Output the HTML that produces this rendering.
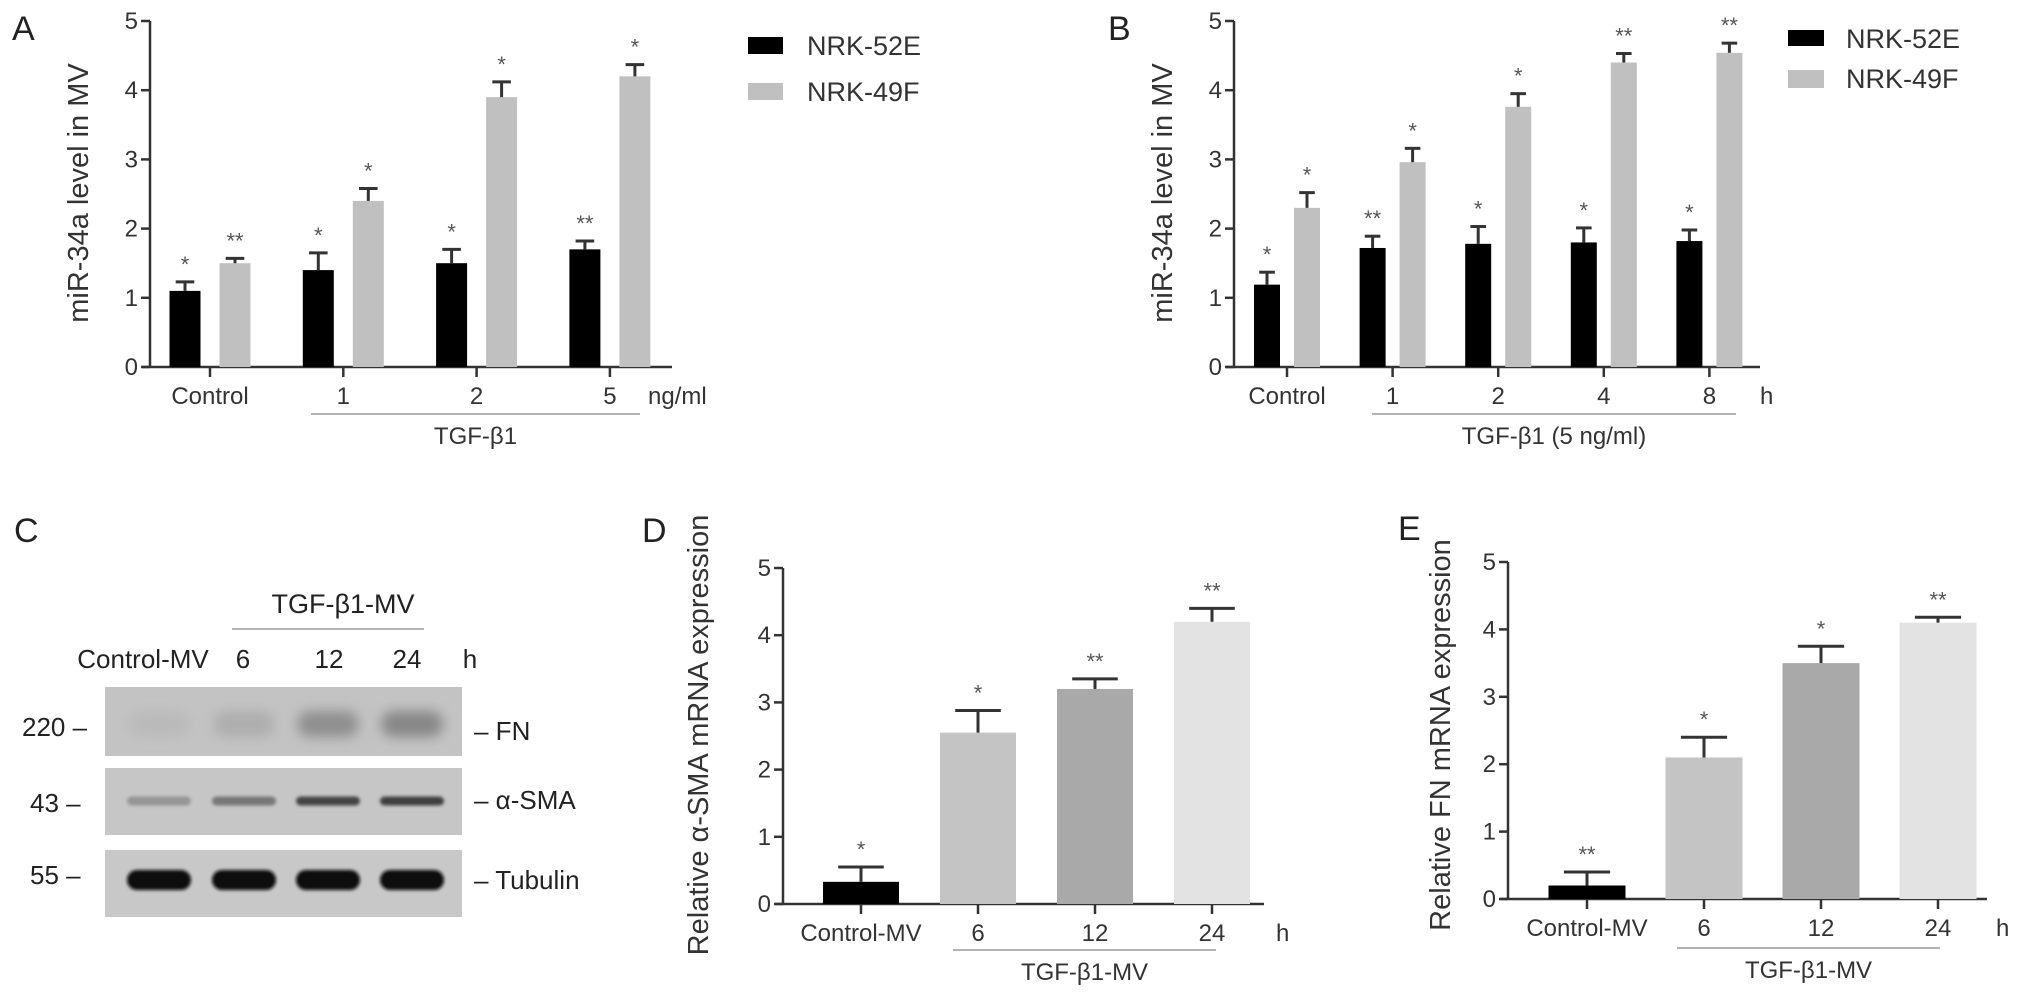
<!DOCTYPE html>
<html><head><meta charset="utf-8">
<style>
html,body{margin:0;padding:0;background:#fff;}
svg{display:block;font-family:"Liberation Sans",Arial,sans-serif;}
</style></head>
<body>
<svg id="fig" width="2031" height="1006" viewBox="0 0 2031 1006" xmlns="http://www.w3.org/2000/svg">
<defs>
<filter id="blur3" x="-50%" y="-100%" width="200%" height="300%"><feGaussianBlur stdDeviation="6"/></filter>
<filter id="blur2" x="-50%" y="-100%" width="200%" height="300%"><feGaussianBlur stdDeviation="1.6"/></filter>
</defs>
<text x="12" y="40" font-size="34" fill="#222">A</text>
<text x="1108" y="40" font-size="34" fill="#222">B</text>
<text x="14" y="542" font-size="34" fill="#222">C</text>
<text x="642" y="542" font-size="34" fill="#222">D</text>
<text x="1398" y="540" font-size="34" fill="#222">E</text>

<rect x="748" y="37" width="35" height="17" fill="#000"/>
<text x="807" y="55" font-size="27" fill="#333">NRK-52E</text>
<rect x="748" y="83" width="35" height="17" fill="#c0c0c0"/>
<text x="807" y="101" font-size="27" fill="#333">NRK-49F</text>
<rect x="1788" y="30" width="36" height="16" fill="#000"/>
<text x="1846" y="48" font-size="27" fill="#333">NRK-52E</text>
<rect x="1788" y="70" width="36" height="18" fill="#c0c0c0"/>
<text x="1846" y="88" font-size="27" fill="#333">NRK-49F</text>

<text x="343" y="613" font-size="27" text-anchor="middle" fill="#222">TGF-β1-MV</text>
<line x1="232" y1="629" x2="424" y2="629" stroke="#999" stroke-width="1.5"/>
<text x="143" y="668" font-size="26" text-anchor="middle" fill="#222">Control-MV</text>
<text x="243" y="668" font-size="26" text-anchor="middle" fill="#222">6</text>
<text x="329" y="668" font-size="26" text-anchor="middle" fill="#222">12</text>
<text x="407" y="668" font-size="26" text-anchor="middle" fill="#222">24</text>
<text x="470" y="668" font-size="26" text-anchor="middle" fill="#222">h</text>
<text x="22" y="736" font-size="26" fill="#222">220 –</text>
<text x="30" y="812" font-size="26" fill="#222">43 –</text>
<text x="30" y="884" font-size="26" fill="#222">55 –</text>
<text x="474" y="740" font-size="26" fill="#222">– FN</text>
<text x="474" y="809" font-size="26" fill="#222">– α-SMA</text>
<text x="474" y="889" font-size="26" fill="#222">– Tubulin</text>
<g id="blots"></g>
<g id="charts"></g>
</svg>
<script>
const aCats = ["Control","1","2","5"];
const aBlack = [1.1,1.4,1.5,1.7];
const aBlackErr = [0.13,0.25,0.2,0.12];
const aGray = [1.5,2.4,3.9,4.2];
const aGrayErr = [0.07,0.18,0.22,0.17];
const aBlackStars = ["*","*","*","**"];
const aGrayStars = ["**","*","*","*"];
const bCats = ["Control","1","2","4","8"];
const bBlack = [1.19,1.72,1.78,1.8,1.82];
const bBlackErr = [0.18,0.17,0.25,0.21,0.16];
const bGray = [2.3,2.96,3.76,4.4,4.54];
const bGrayErr = [0.22,0.2,0.19,0.13,0.14];
const bBlackStars = ["*","**","*","*","*"];
const bGrayStars = ["*","*","*","**","**"];
const dCats = ["Control-MV","6","12","24"];
const dVals = [0.33,2.55,3.2,4.2];
const dErr = [0.22,0.33,0.15,0.2];
const dStars = ["*","*","**","**"];
const eCats = ["Control-MV","6","12","24"];
const eVals = [0.2,2.1,3.5,4.1];
const eErr = [0.2,0.3,0.25,0.08];
const eStars = ["**","*","*","**"];
const yTicks = [0,1,2,3,4,5];
const fnBand = [0.06,0.12,0.28,0.32];
const smaBand = [0.25,0.4,0.65,0.68];
const tubBand = [0.95,0.95,0.95,0.95];

const NS="http://www.w3.org/2000/svg";
const root=document.getElementById('charts');
function mk(tag,attrs,parent){const e=document.createElementNS(NS,tag);for(const k in attrs)e.setAttribute(k,attrs[k]);(parent||root).appendChild(e);return e;}
function txt(s,attrs,parent){const e=mk('text',attrs,parent);e.textContent=s;return e;}

function axes(p,cats,g){
  const y=v=>p.y0-v*p.unit;
  const ax=mk('line',{x1:p.ax,y1:y(5),x2:p.ax,y2:p.y0,stroke:'#333','stroke-width':2.5},g);
  
  
  const xa=mk('line',{x1:p.ax-8,y1:p.y0,x2:p.axEnd,y2:p.y0,stroke:'#333','stroke-width':2.5},g);
  
  
  yTicks.forEach(t=>{
    const tk=mk('line',{x1:p.ax-9,y1:y(t),x2:p.ax,y2:y(t),stroke:'#333','stroke-width':2.5},g);
    
    
    const tl=txt(String(t),{x:p.ax-12,y:y(t)+8,'font-size':24,'text-anchor':'end',fill:'#333'},g);
    
    
  });
  cats.forEach((c,i)=>{
    const cx=p.x(i);
    const tk=mk('line',{x1:cx,y1:p.y0,x2:cx,y2:p.y0+10,stroke:'#333','stroke-width':2.5},g);
    
    
    const tl=txt(c,{x:cx,y:p.y0+37,'font-size':p.lfs||24,'text-anchor':'middle',fill:'#333'},g);
    
    
  });
  const yt=txt(p.title,{x:0,y:0,'font-size':29,'text-anchor':'middle',fill:'#333',transform:`translate(${p.tx},${p.ty}) rotate(-90)`},g);
  
  
  const ul=mk('line',{x1:p.ul[0],y1:p.ulY,x2:p.ul[1],y2:p.ulY,stroke:'#999','stroke-width':1.5},g);
  
  
  const gt=txt(p.group,{x:(p.ul[0]+p.ul[1])/2,y:p.ulY+30,'font-size':24,'text-anchor':'middle',fill:'#333'},g);
  
  
  const un=txt(p.unitLbl,{x:p.unitX,y:p.y0+37,'font-size':24,fill:'#333'},g);
  
  
  return y;
}
function bar(g,y,cx,w,v,err,fill,star,name){
  const r=mk('rect',{x:cx-w/2,y:y(v),width:w,height:y(0)-y(v),fill:fill},g);
  
  
  const cw=w*0.6, top=y(v+err);
  const e1=mk('line',{x1:cx,y1:y(v),x2:cx,y2:top,stroke:'#333','stroke-width':3},g);
  
  
  const e2=mk('line',{x1:cx-cw/2,y1:top,x2:cx+cw/2,y2:top,stroke:'#333','stroke-width':3},g);
  
  
  const s=txt(star,{x:cx,y:top-10,'font-size':22,'text-anchor':'middle',fill:'#555'},g);
  
  
}
(function(){
  const g=mk('g',{});
  
  
  const p={ax:150,axEnd:672,y0:367,unit:69.2,x:i=>210+i*133.3,title:'miR-34a level in MV',tx:88,ty:193,
    ul:[311,640],ulY:414,group:'TGF-β1',unitLbl:'ng/ml',unitX:648};
  const y=axes(p,aCats,g);
  aCats.forEach((c,i)=>{
    bar(g,y,p.x(i)-25,31,aBlack[i],aBlackErr[i],'#000',aBlackStars[i],'bar-nrk52e-'+c);
    bar(g,y,p.x(i)+25,31,aGray[i],aGrayErr[i],'#c0c0c0',aGrayStars[i],'bar-nrk49f-'+c);
  });
})();
(function(){
  const g=mk('g',{});
  
  
  const p={ax:1234,axEnd:1760,y0:367,unit:69.2,x:i=>1287+i*105.6,title:'miR-34a level in MV',tx:1172,ty:193,
    ul:[1372,1736],ulY:414,group:'TGF-β1 (5 ng/ml)',unitLbl:'h',unitX:1760};
  const y=axes(p,bCats,g);
  bCats.forEach((c,i)=>{
    bar(g,y,p.x(i)-20,26,bBlack[i],bBlackErr[i],'#000',bBlackStars[i],'bar-nrk52e-'+c);
    bar(g,y,p.x(i)+20,26,bGray[i],bGrayErr[i],'#c0c0c0',bGrayStars[i],'bar-nrk49f-'+c);
  });
})();
const deFills=['#000','#c4c4c4','#a9a9a9','#e3e3e3'];
(function(){
  const g=mk('g',{});
  
  
  const p={ax:783,axEnd:1264,y0:904,unit:67.2,x:i=>861+i*117,title:'Relative α-SMA mRNA expression',tx:708,ty:735,
    ul:[953,1216],ulY:950,group:'TGF-β1-MV',unitLbl:'h',unitX:1276};
  const y=axes(p,dCats,g);
  dCats.forEach((c,i)=>bar(g,y,p.x(i),76,dVals[i],dErr[i],deFills[i],dStars[i],'bar-asma-'+c));
})();
(function(){
  const g=mk('g',{});
  
  
  const p={ax:1508,axEnd:1987,y0:899,unit:67.4,x:i=>1587+i*117,title:'Relative FN mRNA expression',tx:1450,ty:735,
    ul:[1677,1940],ulY:948,group:'TGF-β1-MV',unitLbl:'h',unitX:1996};
  const y=axes(p,eCats,g);
  eCats.forEach((c,i)=>bar(g,y,p.x(i),77,eVals[i],eErr[i],deFills[i],eStars[i],'bar-fn-'+c));
})();
(function(){
  const g=document.getElementById('blots');
  const lanes=[159,244,328,412];
  const strips=[{y:687,h:69,bg:'#c3c3c3',cy:724,bw:62,bh:26,int:fnBand,f:'blur3',n:'blot-fn'},
                {y:768,h:67,bg:'#c6c6c6',cy:801,bw:64,bh:9,int:smaBand,f:'blur2',n:'blot-asma'},
                {y:850,h:67,bg:'#c8c8c8',cy:880,bw:64,bh:20,int:tubBand,f:'blur2',n:'blot-tubulin'}];
  strips.forEach(s=>{
    const r=mk('rect',{x:105,y:s.y,width:357,height:s.h,fill:s.bg},g);
    
    
    s.int.forEach((v,i)=>{
      const c=Math.round(198*(1-v));
      const b=mk('rect',{x:lanes[i]-s.bw/2,y:s.cy-s.bh/2,width:s.bw,height:s.bh,rx:s.bh/2,fill:`rgb(${c},${c},${c})`,filter:`url(#${s.f})`},g);
      
      
    });
  });
})();
</script>
</body></html>
